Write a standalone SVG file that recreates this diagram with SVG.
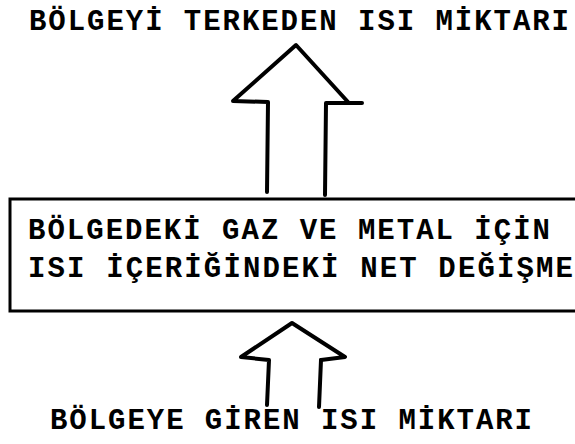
<svg xmlns="http://www.w3.org/2000/svg" width="575" height="444" viewBox="0 0 575 444">
  <style>
    .t { font-family: "Liberation Mono", "Courier New", monospace; font-size: 29px; font-weight: bold; fill: #000; }
    .ln { fill: none; stroke: #000; stroke-width: 4; stroke-linejoin: round; stroke-linecap: round; }
    .box { fill: none; stroke: #000; stroke-width: 3; }
  </style>
  <rect width="575" height="444" fill="#fff"/>
  <g id="out-label">
    <text class="t" x="29" y="30" textLength="540" lengthAdjust="spacing">BÖLGEYİ TERKEDEN ISI MİKTARI</text>
  </g>
  <g id="center-box">
    <polyline class="box" points="577,199 10,199 10,311 577,311"/>
    <text class="t" x="28" y="239" textLength="522" lengthAdjust="spacing">BÖLGEDEKİ GAZ VE METAL İÇİN</text>
    <text class="t" x="28" y="277" textLength="545" lengthAdjust="spacing">ISI İÇERİĞİNDEKİ NET DEĞİŞME</text>
  </g>
  <g id="in-label">
    <text class="t" x="50" y="429" textLength="482" lengthAdjust="spacing">BÖLGEYE GİREN ISI MİKTARI</text>
  </g>
  <g id="connectors">
    <polyline class="ln" points="267,192 268,102 233,101 296,45 348,102"/>
    <polyline class="ln" points="325,195 326,103 362,103"/>
    <polyline class="ln" points="267,405 269,360 241,357 292,323 345,357 321,360"/>
    <polyline class="ln" points="321,360 319,407"/>
  </g>
</svg>
